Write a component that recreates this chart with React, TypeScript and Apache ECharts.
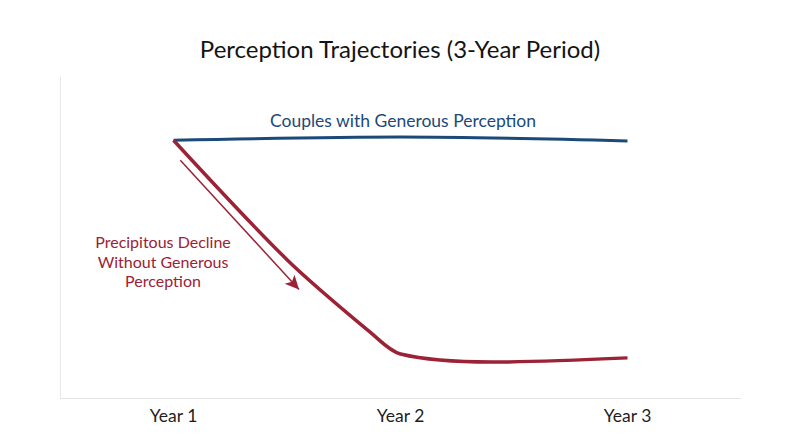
import React, { useEffect, useRef } from "react";
import * as echarts from "echarts";

const yearTicks = [1, 2, 3];
const generousData: [number, number][] = [
  [1, 80.3],
  [2, 81.3],
  [3, 80.1],
];
const declineData: [number, number][] = [
  [1, 80.3],
  [1.5, 43.1],
  [1.87, 20.3],
  [2, 13.7],
  [2.4, 11.2],
  [3, 12.5],
];
const arrowStart: [number, number] = [1.03, 74.1];
const arrowEnd: [number, number] = [1.553, 33.8];
const declineLabelLines = ["Precipitous Decline", "Without Generous", "Perception"];

const FONT = "Lato, 'Noto Sans', sans-serif";
const BLUE = "#1b4a78";
const RED = "#9c2236";

export default function App() {
  const ref = useRef<HTMLDivElement>(null);
  useEffect(() => {
    document.body.style.margin = "0";
    const chart = echarts.init(ref.current!, null, { renderer: "svg" });
    chart.setOption({
      animation: false,
      backgroundColor: "#ffffff",
      title: {
        text: "Perception Trajectories (3-Year Period)",
        left: "center",
        top: 31,
        textStyle: { fontFamily: FONT, fontSize: 24, fontWeight: "normal", color: "#141414" },
      },
      grid: { left: 60, right: 59, top: 77, bottom: 49 },
      xAxis: {
        type: "value",
        min: 0.5,
        max: 3.5,
        splitLine: { show: false },
        axisTick: { show: false },
        axisLine: { show: true, lineStyle: { color: "#e4e4e4", width: 1 } },
        axisLabel: {
          customValues: yearTicks,
          formatter: (v: number) => "Year " + v,
          fontFamily: FONT,
          fontSize: 17.5,
          color: "#1e1e1e",
          margin: 8,
        },
      },
      yAxis: {
        type: "value",
        min: 0,
        max: 100,
        splitLine: { show: false },
        axisTick: { show: false },
        axisLabel: { show: false },
        axisLine: { show: true, lineStyle: { color: "#e8e8e8", width: 1 } },
      },
      series: [
        {
          type: "line",
          name: "Couples with Generous Perception",
          data: generousData,
          smooth: 0.3,
          symbol: "none",
          lineStyle: { color: BLUE, width: 3 },
          z: 3,
        },
        {
          type: "line",
          name: "Precipitous Decline Without Generous Perception",
          data: declineData,
          smooth: 0.3,
          symbol: "none",
          lineStyle: { color: RED, width: 3.5 },
          z: 4,
          markLine: {
            silent: true,
            symbol: ["none", "arrow"],
            symbolSize: [10, 14],
            label: { show: false },
            lineStyle: { color: RED, width: 1.5, type: "solid" },
            data: [[{ coord: arrowStart }, { coord: arrowEnd }]],
          },
        },
      ],
      graphic: [
        {
          type: "text",
          x: 403,
          y: 120,
          style: {
            text: "Couples with Generous Perception",
            fill: BLUE,
            font: `17.5px ${FONT}`,
            textAlign: "center",
            textVerticalAlign: "middle",
          },
        },
        ...declineLabelLines.map((line, i) => ({
          type: "text",
          x: 163,
          y: 241.5 + i * 19.6,
          style: {
            text: line,
            fill: RED,
            font: `16px ${FONT}`,
            textAlign: "center",
            textVerticalAlign: "middle",
          },
        })),
      ],
    });
    return () => chart.dispose();
  }, []);
  return <div ref={ref} style={{ width: 800, height: 447 }} />;
}
